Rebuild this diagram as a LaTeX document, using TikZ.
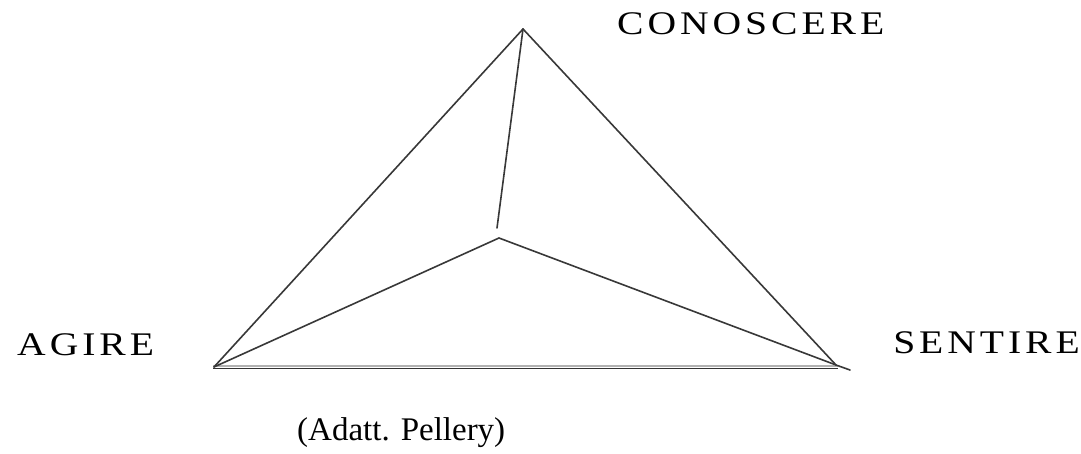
\documentclass[tikz,border=0pt]{standalone}
\usepackage{fontspec}
\newfontfamily\capfont[LetterSpace=10]{Liberation Serif}
\newfontfamily\txtfont{Liberation Serif}
\begin{document}
\begin{tikzpicture}[x=1pt,y=-1pt,
  edge/.style={draw=black!78,line width=1.6pt,line cap=round},
  lbl/.style={font=\capfont\fontsize{33}{33}\selectfont,inner sep=0pt,anchor=base west,xscale=1.2},
  small/.style={font=\txtfont\fontsize{33}{33}\selectfont,inner sep=0pt,anchor=base west}]
\useasboundingbox (0,0) rectangle (1081,454);
\coordinate (A) at (523,29);
\coordinate (I) at (499,238);
\coordinate (V) at (497,228);
\coordinate (L) at (214,367);
\coordinate (R) at (836,365);
\coordinate (Rx) at (850,370);
\coordinate (B1) at (213,366);
\coordinate (B2) at (838,366);
\coordinate (C1) at (213,368.5);
\coordinate (C2) at (838,368.5);
\draw[draw=black!30,line width=1.8pt] (B1) -- (B2);
\draw[draw=black!80,line width=1.8pt] (C1) -- (C2);
\draw[edge] (A) -- (L);
\draw[edge] (A) -- (R);
\draw[edge] (A) -- (V);
\draw[edge] (L) -- (I) -- (R) -- (Rx);
\node[lbl] (con) at (617,35) {CONOSCERE};
\node[lbl] (agi) at (17,355) {AGIRE};
\node[lbl] (sen) at (893,353) {SENTIRE};
\node[small] (ad) at (297,440) {(Adatt. Pellery)};
\end{tikzpicture}
\end{document}
